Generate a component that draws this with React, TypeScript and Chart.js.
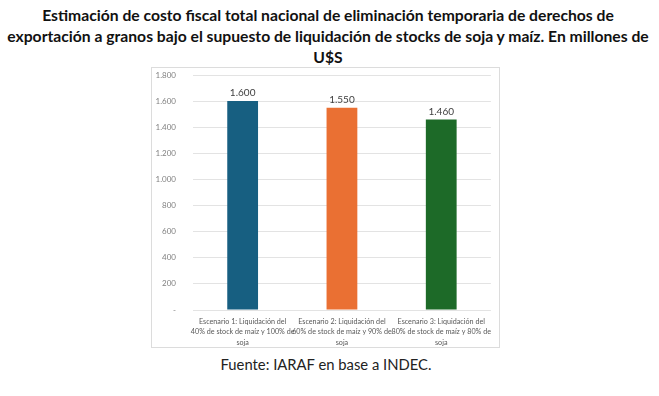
import React, { useEffect, useRef } from "react";
import { Chart, registerables } from "chart.js";

Chart.register(...registerables);

const categories: string[][] = [
  ["Escenario 1: Liquidación del", "40% de stock de maíz y 100% de", "soja"],
  ["Escenario 2: Liquidación del", "60% de stock de maíz y 90% de", "soja"],
  ["Escenario 3: Liquidación del", "80% de stock de maíz y 80% de", "soja"],
];
const values: number[] = [1600, 1550, 1460];
const barColors: string[] = ["#175f81", "#ea7033", "#1d6a28"];
const yMax = 1800;
const yStep = 200;

const fmt = (v: number) =>
  v === 0 ? "-" : v.toLocaleString("de-DE", { maximumFractionDigits: 0 });

const valueLabels = {
  id: "valueLabels",
  afterDatasetsDraw(chart: any) {
    const ctx = chart.ctx;
    const meta = chart.getDatasetMeta(0);
    ctx.save();
    ctx.font = "10px Lato, 'Open Sans', sans-serif";
    ctx.fillStyle = "#404040";
    ctx.textAlign = "center";
    ctx.textBaseline = "bottom";
    meta.data.forEach((bar: any, i: number) => {
      ctx.fillText(fmt(values[i]), bar.x, bar.y - 3);
    });
    ctx.restore();
  },
};

export default function App() {
  const ref = useRef<HTMLCanvasElement>(null);
  useEffect(() => {
    if (!ref.current) return;
    const chart = new Chart(ref.current, {
      type: "bar",
      data: {
        labels: categories,
        datasets: [
          {
            data: values,
            backgroundColor: barColors,
            barPercentage: 0.31,
            categoryPercentage: 1,
          },
        ],
      },
      plugins: [valueLabels],
      options: {
        animation: false,
        responsive: false,
        maintainAspectRatio: false,
        layout: { padding: { left: 0, right: 6, top: 7, bottom: 0 } },
        plugins: { legend: { display: false }, tooltip: { enabled: false } },
        scales: {
          x: {
            grid: { display: false, drawTicks: false },
            border: { display: false },
            ticks: {
              color: "#595959",
              font: { size: 7.2, family: "Lato, 'Open Sans', sans-serif", lineHeight: 1.4 },
              maxRotation: 0,
              autoSkip: false,
              padding: 7,
            },
            afterFit: (s: any) => {
              s.height = 37;
            },
          },
          y: {
            min: 0,
            max: yMax,
            grid: { color: "#e3e3e3", drawTicks: false },
            border: { display: false },
            ticks: {
              stepSize: yStep,
              color: "#808080",
              font: { size: 8, family: "Lato, 'Open Sans', sans-serif" },
              padding: 17,
              callback: (v: any) => fmt(Number(v)),
            },
            afterFit: (s: any) => {
              s.width = 41;
              s.paddingTop = 0;
              s.paddingBottom = 0;
            },
          },
        },
      },
    });
    return () => chart.destroy();
  }, []);

  return (
    <div
      style={{
        position: "fixed",
        left: 0,
        top: 0,
        width: 659,
        height: 396,
        background: "#fff",
        fontFamily: "Lato, 'Open Sans', sans-serif",
      }}
    >
      <div
        style={{
          position: "absolute",
          left: 0,
          width: 656,
          top: 5,
          textAlign: "center",
          fontWeight: 700,
          fontSize: 15.7,
          lineHeight: "21px",
          color: "#111",
          whiteSpace: "nowrap",
        }}
      >
        Estimación de costo fiscal total nacional de eliminación temporaria de derechos de
        <br />
        exportación a granos bajo el supuesto de liquidación de stocks de soja y maíz. En millones de
        <br />
        U$S
      </div>
      <div
        style={{
          position: "absolute",
          left: 151,
          top: 67,
          width: 349,
          height: 281,
          border: "1px solid #dcdcdc",
          boxSizing: "border-box",
        }}
      >
        <canvas
          ref={ref}
          width={347}
          height={279}
          style={{ display: "block", width: 347, height: 279 }}
        />
      </div>
      <div
        style={{
          position: "absolute",
          left: 0,
          width: 652,
          top: 355,
          textAlign: "center",
          fontSize: 14.8,
          color: "#222",
        }}
      >
        Fuente: IARAF en base a INDEC.
      </div>
    </div>
  );
}
